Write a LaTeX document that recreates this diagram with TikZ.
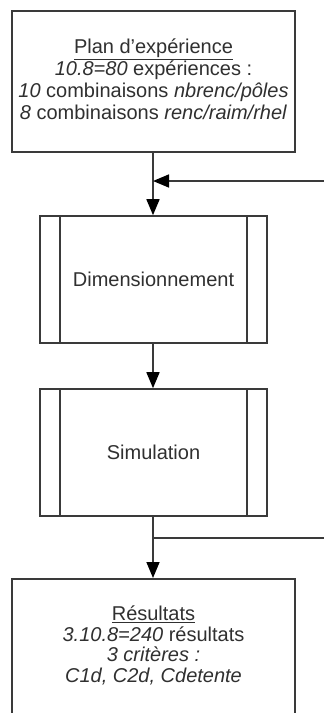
\documentclass[tikz,border=0pt]{standalone}
\usepackage{fontspec}
\setmainfont{Liberation Sans}
\usetikzlibrary{arrows.meta}
\definecolor{ln}{HTML}{3A3A3A}
\definecolor{tx}{HTML}{303030}
\tikzset{
  box/.style={draw=ln, line width=1.6pt, rectangle, inner sep=0pt, fill=white},
  txt/.style={text=tx, align=center, inner sep=0pt, font=\fontsize{20}{22}\selectfont},
  conn/.style={draw=ln, line width=1.6pt},
  arr/.style={conn, -{Triangle[length=16pt,width=13pt,color=black,fill=black]}}
}
\begin{document}
\begin{tikzpicture}[x=1pt,y=-1pt]
\useasboundingbox (0,0) rectangle (324,713);
\clip (0,0) rectangle (324,713);
% top box
\node[box, minimum width=283pt, minimum height=141pt] (plan) at (153.5,81.5) {};
\node[txt] (plantext) at (153.5,79) {\underline{Plan d'expérience}\\
  \textit{10.8=80} expériences :\\
  \textit{10} combinaisons \textit{nbrenc/pôles}\\
  \textit{8} combinaisons \textit{renc/raim/rhel}};
% Dimensionnement
\node[box, minimum width=227pt, minimum height=127pt] (dim) at (153.5,279.5) {};
\node[txt] (dimtext) at (153.5,279) {Dimensionnement};
\draw[conn] ([xshift=21pt]dim.north west) -- ([xshift=21pt]dim.south west);
\draw[conn] ([xshift=-21pt]dim.north east) -- ([xshift=-21pt]dim.south east);
% Simulation
\node[box, minimum width=227pt, minimum height=127pt] (sim) at (153.5,452.5) {};
\node[txt] (simtext) at (153.5,452) {Simulation};
\draw[conn] ([xshift=21pt]sim.north west) -- ([xshift=21pt]sim.south west);
\draw[conn] ([xshift=-21pt]sim.north east) -- ([xshift=-21pt]sim.south east);
% Resultats
\node[box, minimum width=283pt, minimum height=200pt, anchor=north] (res) at (153.5,578) {};
\node[txt, font=\fontsize{20}{20.5}\selectfont] (restext) at (153.5,645.5) {\underline{Résultats}\\
  \textit{3.10.8=240} résultats\\
  \textit{3 critères :}\\
  \textit{C1d, C2d, Cdetente}};
% connectors
\coordinate (j1) at (153,181);
\coordinate (e1) at (324,181);
\coordinate (j2) at (153,538);
\coordinate (e2) at (324,538);
\draw[arr] (plan.south -| j1) -- (dim.north -| j1);
\draw[arr] (e1) -- (j1);
\draw[arr] (dim.south -| j1) -- (sim.north -| j1);
\draw[arr] (sim.south -| j1) -- (res.north -| j1);
\draw[conn] (j2) -- (e2);
\end{tikzpicture}
\end{document}
